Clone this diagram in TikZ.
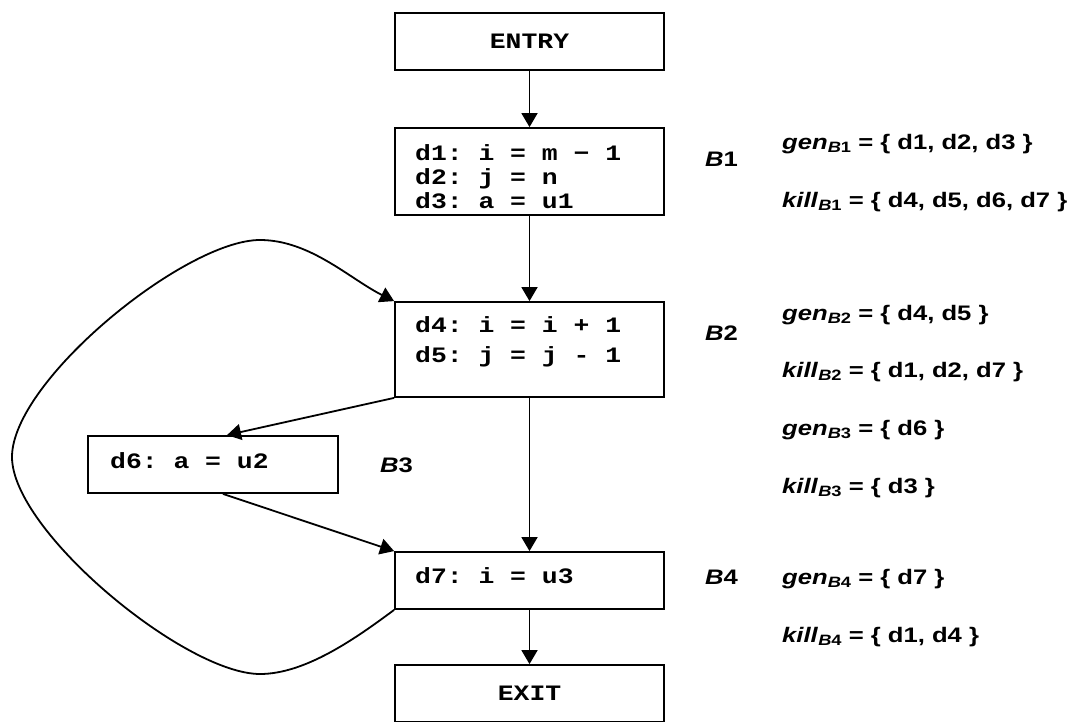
\documentclass[tikz,border=0pt]{standalone}
\usepackage{fontspec}
\setmainfont{Liberation Sans}[FakeStretch=1.22]
\newfontfamily\monof{Liberation Mono}[FakeStretch=1.2]
\usetikzlibrary{arrows.meta}
\newcommand\gksub[1]{\raisebox{-3pt}{\fontsize{15}{15}\selectfont\itshape B\upshape #1}}
\newcommand\monoset{\monof\bfseries\fontsize{22}{25}\selectfont}
\newcommand\ms{\hbox to \fontcharwd\font`\a{}}
\begin{document}
\begin{tikzpicture}[x=1pt,y=1pt,
  box/.style={draw, line width=1.8pt, minimum width=269pt, inner sep=0pt},
  code/.style={anchor=base west, inner sep=0pt, font=\monoset},
  term/.style={draw, line width=1.8pt, minimum width=269pt, minimum height=57pt, inner sep=0pt,
    font=\monoset},
  arr/.style={line width=1.8pt, -{Triangle[length=14pt,width=16pt]}},
  lab/.style={anchor=base west, inner sep=0pt, font=\bfseries\fontsize{21}{21}\selectfont},
  blab/.style={anchor=base west, inner sep=0pt, font=\bfseries\fontsize{21}{21}\selectfont}]
\useasboundingbox (0,0) rectangle (1078,721);
\node[term] (entry) at (529.5,679.5) {ENTRY};
\node[box, minimum height=87pt] (b1) at (529.5,549.5) {};
\node[box, minimum height=95pt] (b2) at (529.5,371.5) {};
\node[box, minimum width=250pt, minimum height=57pt] (b3) at (213,256.5) {};
\node[box, minimum height=57pt] (b4) at (529.5,140.5) {};
\node[term] (exit) at (529.5,27.5) {EXIT};

\node[code] (b1a) at (415,560) {d1:\ms i\ms=\ms m\ms−\ms 1};
\node[code] (b1b) at (415,536) {d2:\ms j\ms=\ms n};
\node[code] (b1c) at (415,512) {d3:\ms a\ms=\ms u1};
\node[code] (b2a) at (415,388) {d4:\ms i\ms=\ms i\ms+\ms 1};
\node[code] (b2b) at (415,359) {d5:\ms j\ms=\ms j\ms-\ms 1};
\node[code] (b3a) at (110,253) {d6:\ms a\ms=\ms u2};
\node[code] (b4a) at (415,138) {d7:\ms i\ms=\ms u3};

\node[blab] (l1) at (705,554) {\textit{B}1};
\node[blab] (l2) at (705,381) {\textit{B}2};
\node[blab] (l3) at (380,249) {\textit{B}3};
\node[blab] (l4) at (705,137) {\textit{B}4};

\node[lab] (g1) at (782,571.5) {\textit{gen}\gksub{1} = \{ d1, d2, d3 \}};
\node[lab] (k1) at (782,513.5) {\textit{kill}\gksub{1} = \{ d4, d5, d6, d7 \}};
\node[lab] (g2) at (782,400.5) {\textit{gen}\gksub{2} = \{ d4, d5 \}};
\node[lab] (k2) at (782,343.5) {\textit{kill}\gksub{2} = \{ d1, d2, d7 \}};
\node[lab] (g3) at (782,285.5) {\textit{gen}\gksub{3} = \{ d6 \}};
\node[lab] (k3) at (782,227.5) {\textit{kill}\gksub{3} = \{ d3 \}};
\node[lab] (g4) at (782,136.5) {\textit{gen}\gksub{4} = \{ d7 \}};
\node[lab] (k4) at (782,78.5) {\textit{kill}\gksub{4} = \{ d1, d4 \}};

\draw[arr] (entry) -- (b1);
\draw[arr] (b1) -- (b2);
\draw[arr] (b2) -- (b4);
\draw[arr] (b4) -- (exit);
\draw[arr] (b2.south west) -- ([xshift=14pt]b3.north);
\draw[arr] ([xshift=10pt]b3.south) -- (b4.north west);
\coordinate (lbot) at (260,47);
\coordinate (lleft) at (12,264);
\coordinate (ltop) at (260,481);
\draw[arr] (b4.south west) .. controls (355,82) and (305,47) .. (lbot)
  .. controls (185,47) and (12,190) .. (lleft)
  .. controls (12,340) and (185,481) .. (ltop)
  .. controls (310,481) and (350,442) .. (b2.north west);
\end{tikzpicture}
\end{document}
